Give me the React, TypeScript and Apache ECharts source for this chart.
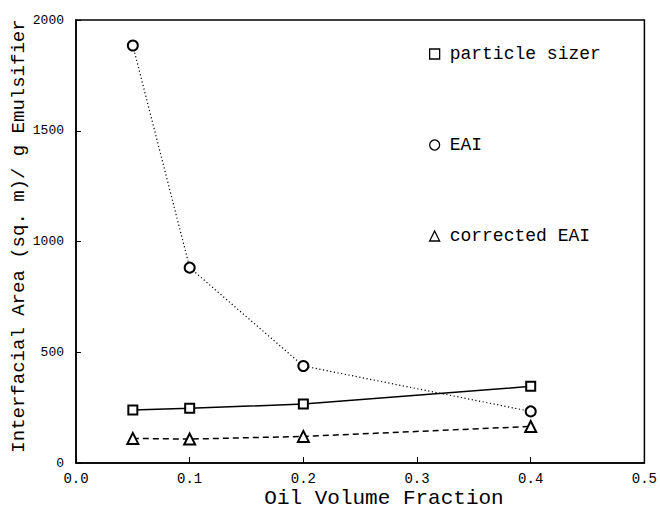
import React, { useEffect, useRef } from "react";
import * as echarts from "echarts";

const oilFraction = [0.05, 0.1, 0.2, 0.4];
const particleSizer = [239, 247, 266, 346];
const eai = [1885, 882, 438, 233];
const correctedEai = [111, 108, 120, 165];
const xTicks = [0, 0.1, 0.2, 0.3, 0.4, 0.5];
const yTicks = [0, 500, 1000, 1500, 2000];
const seriesNames = ["particle sizer", "EAI", "corrected EAI"];

const FONT = "Liberation Mono";

export default function App() {
  const ref = useRef<HTMLDivElement>(null);
  useEffect(() => {
    document.body.style.margin = "0";
    if (!ref.current) return;
    const chart = echarts.init(ref.current, undefined, { renderer: "svg" });
    const pts = (ys: number[]) => oilFraction.map((x, i) => [x, ys[i]]);
    chart.setOption({
      animation: false,
      backgroundColor: "#fff",
      grid: {
        left: 76,
        right: 13,
        top: 20,
        bottom: 51,
        show: true,
        borderColor: "#000",
        borderWidth: 1.5,
      },
      xAxis: {
        type: "value",
        min: xTicks[0],
        max: xTicks[xTicks.length - 1],
        interval: 0.1,
        axisLine: { lineStyle: { color: "#000", width: 1.5 } },
        axisTick: { inside: true, length: 6, lineStyle: { color: "#000" } },
        splitLine: { show: false },
        axisLabel: {
          color: "#000",
          fontFamily: FONT,
          fontSize: 14,
          margin: 9,
          formatter: (v: number) => v.toFixed(1),
        },
      },
      yAxis: {
        type: "value",
        min: yTicks[0],
        max: yTicks[yTicks.length - 1],
        interval: 500,
        axisLine: { lineStyle: { color: "#000", width: 1.5 } },
        axisTick: { inside: true, length: 5, lineStyle: { color: "#000" } },
        splitLine: { show: false },
        axisLabel: {
          color: "#000",
          fontFamily: FONT,
          fontSize: 13,
          margin: 12,
          formatter: (v: number) => String(v),
        },
      },
      legend: {
        orient: "vertical",
        left: 424,
        top: 40,
        itemWidth: 10,
        itemHeight: 10,
        itemGap: 73,
        textStyle: {
          fontFamily: FONT,
          fontSize: 18,
          color: "#000",
          lineHeight: 18,
          padding: [0, 0, 0, 5],
        },
        itemStyle: { color: "#fff", borderColor: "#000", borderWidth: 1.3 },
        data: [
          { name: seriesNames[0], icon: "rect" },
          { name: seriesNames[1], icon: "circle" },
          { name: seriesNames[2], icon: "triangle" },
        ],
      },
      graphic: [
        {
          type: "text",
          x: 19,
          y: 236,
          rotation: Math.PI / 2,
          style: {
            text: "Interfacial Area (sq. m)/ g Emulsifier",
            fontFamily: FONT,
            fontSize: 19,
            fill: "#000",
            align: "center",
            verticalAlign: "middle",
          },
        },
        {
          type: "text",
          x: 384,
          y: 498,
          style: {
            text: "Oil Volume Fraction",
            fontFamily: FONT,
            fontSize: 21,
            fill: "#000",
            align: "center",
            verticalAlign: "middle",
          },
        },
      ],
      series: [
        {
          name: seriesNames[0],
          type: "line",
          data: pts(particleSizer),
          symbol: "emptyRect",
          symbolSize: 9,
          lineStyle: { color: "#000", width: 1.5, type: "solid" },
          itemStyle: { color: "#000", borderWidth: 1.3 },
        },
        {
          name: seriesNames[1],
          type: "line",
          data: pts(eai),
          symbol: "emptyCircle",
          symbolSize: 10,
          lineStyle: { color: "#000", width: 1.2, type: [1.2, 2.5] },
          itemStyle: { color: "#000", borderWidth: 1.3 },
        },
        {
          name: seriesNames[2],
          type: "line",
          data: pts(correctedEai),
          symbol: "emptyTriangle",
          symbolSize: 11,
          lineStyle: { color: "#000", width: 1.5, type: [6, 4] },
          itemStyle: { color: "#000", borderWidth: 1.3 },
        },
      ],
    });
    return () => chart.dispose();
  }, []);
  return <div ref={ref} style={{ width: 660, height: 514 }} />;
}
